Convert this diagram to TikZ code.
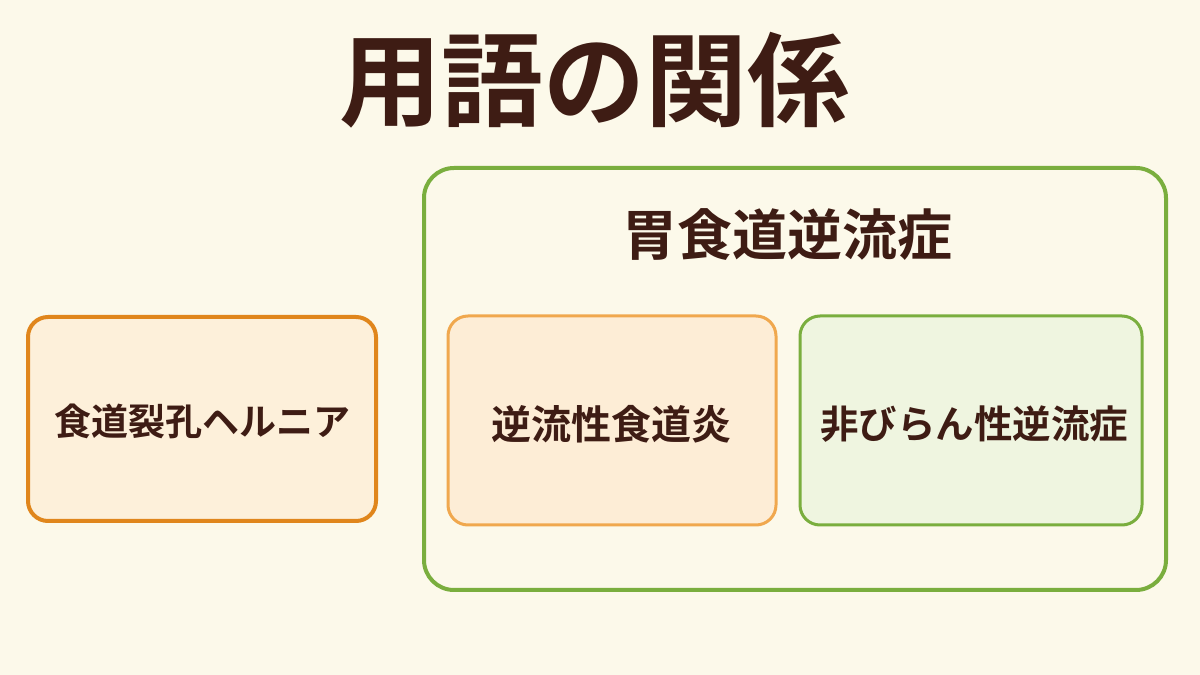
\documentclass[tikz,border=0pt]{standalone}
\usepackage{fontspec}
\setmainfont{Noto Sans CJK JP Bold}
\newfontfamily\jpb{Noto Sans CJK JP Bold}
\definecolor{bgc}{HTML}{FCF9EA}
\definecolor{ink}{HTML}{3E1C14}
\definecolor{orgA}{HTML}{E0861C}
\definecolor{orgAf}{HTML}{FDF0DA}
\definecolor{orgB}{HTML}{F0A84E}
\definecolor{orgBf}{HTML}{FDEDD6}
\definecolor{grnA}{HTML}{7AAE3E}
\definecolor{grnBf}{HTML}{EFF5E0}
\tikzset{
  termbox/.style={rounded corners=20pt, line width=4pt},
  label/.style={text=ink, inner sep=0pt},
}
\begin{document}
\begin{tikzpicture}[x=1pt,y=1pt]
\fill[bgc] (0,0) rectangle (1200,675);
\useasboundingbox (0,0) rectangle (1200,675);
\node[label, font=\jpb\fontsize{102}{110}\selectfont] (title) at (594,595) {用語の関係};
% left box
\draw[termbox, draw=orgA, fill=orgAf] (28,154) rectangle (376,358);
\node[label, font=\jpb\fontsize{37}{40}\selectfont] (hernia) at (202,254) {食道裂孔ヘルニア};
% big green box
\draw[rounded corners=30pt, line width=4pt, draw=grnA] (424,85) rectangle (1166,507);
\node[label, font=\jpb\fontsize{55}{60}\selectfont] (gerd) at (787,440) {胃食道逆流症};
% inner boxes
\draw[termbox, line width=3pt, draw=orgB, fill=orgBf] (448,150) rectangle (776,359);
\node[label, font=\jpb\fontsize{40}{44}\selectfont] (re) at (611,251) {逆流性食道炎};
\draw[termbox, line width=3pt, draw=grnA, fill=grnBf] (800,150) rectangle (1142,359);
\node[label, font=\jpb\fontsize{38.5}{42}\selectfont] (nerd) at (974,251) {非びらん性逆流症};
\end{tikzpicture}
\end{document}
